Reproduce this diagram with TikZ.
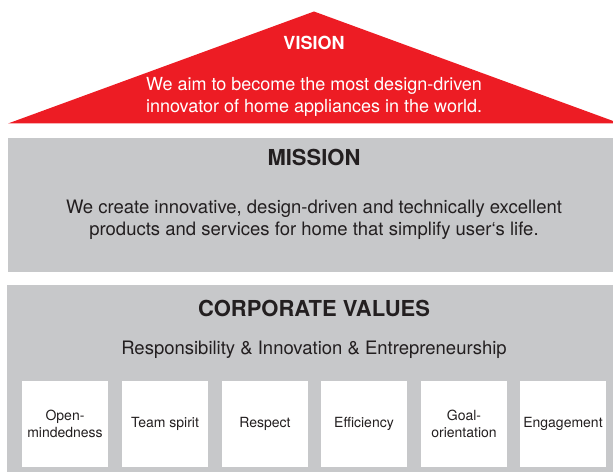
\documentclass[tikz,border=0pt]{standalone}
\usepackage{fontspec}
\setmainfont{TeX Gyre Heros}
\definecolor{vred}{HTML}{ED1C24}
\definecolor{vgray}{HTML}{C7C8CA}
\definecolor{vtext}{HTML}{231F20}
\begin{document}
\begin{tikzpicture}[x=1pt,y=-1pt,
  band/.style={fill=vgray,draw=none},
  title/.style={font=\fontsize{22}{26}\selectfont\bfseries,text=vtext,inner sep=0,anchor=base},
  body/.style={font=\fontsize{18.5}{22}\selectfont,text=vtext,inner sep=0,align=center},
  valbox/.style={fill=white,draw=none,minimum width=86pt,minimum height=86pt,inner sep=0,
    font=\fontsize{14}{17.5}\selectfont,text=vtext,align=center}]
\useasboundingbox (0,0) rectangle (613,473);
\clip (0,0) rectangle (613,473);
% vision roof
\fill[vred] (8,123.5) -- (314,11.5) -- (620,123.5) -- cycle;
\node[title,font=\fontsize{18}{22}\selectfont\bfseries,text=white] (vt) at (314,50) {VISION};
\node[body,font=\fontsize{18}{22}\selectfont,text=white,anchor=base] (vb) at (314,112.5) {We aim to become the most design-driven\\innovator of home appliances in the world.};
% mission
\node[band,minimum width=605pt,minimum height=133.5pt,inner sep=0,anchor=north west] (mission) at (8,138) {};
\node[title] (mt) at (314,166) {MISSION};
\node[body,anchor=base] (mb) at (314,235.5) {We create innovative, design-driven and technically excellent\\products and services for home that simplify user‘s life.};
% values
\node[band,minimum width=606pt,minimum height=187pt,inner sep=0,anchor=north west] (values) at (7,285) {};
\node[title] (ct) at (314,316) {CORPORATE VALUES};
\node[body,anchor=base] (cs) at (314,354) {Responsibility \& Innovation \& Entrepreneurship};
\node[valbox] (v1) at (65,424) {Open-\\mindedness};
\node[valbox] (v2) at (165,424) {Team spirit};
\node[valbox] (v3) at (265,424) {Respect};
\node[valbox] (v4) at (364,424) {Efficiency};
\node[valbox] (v5) at (464,424) {Goal-\\orientation};
\node[valbox] (v6) at (563,424) {Engagement};
\end{tikzpicture}
\end{document}
